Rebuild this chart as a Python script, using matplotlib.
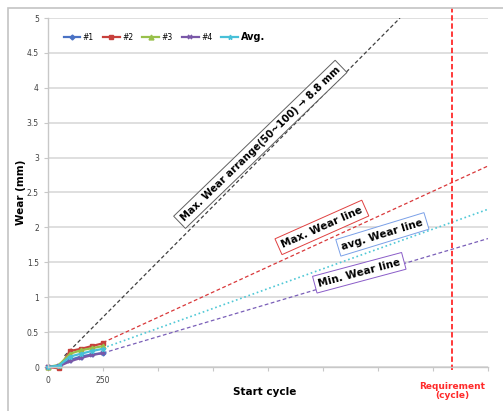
import matplotlib.pyplot as plt
from matplotlib.patches import Rectangle

# data
cycles = [0, 50, 100, 150, 200, 250]
wear_1 = [0.0, 0.02, 0.10, 0.15, 0.18, 0.20]
wear_2 = [0.0, -0.02, 0.23, 0.26, 0.30, 0.34]
wear_3 = [0.0, 0.03, 0.19, 0.24, 0.27, 0.30]
wear_4 = [0.0, 0.01, 0.08, 0.13, 0.17, 0.20]
wear_avg = [0.0, 0.02, 0.15, 0.19, 0.23, 0.26]

# trend lines (start / end)
arrange_x = [75, 1600]
arrange_y = [0.16, 5.0]
max_x = [250, 2000]
max_y = [0.35, 2.88]
avg_x = [250, 2000]
avg_y = [0.27, 2.26]
min_x = [250, 2000]
min_y = [0.20, 1.84]
requirement = 1836

xticks = [0, 250, 500, 750, 1000, 1250, 1500, 1750, 2000]
xtick_labels = ['0', '250', '', '', '', '', '', '', '']
yticks = [0, 0.5, 1, 1.5, 2, 2.5, 3, 3.5, 4, 4.5, 5]
ytick_labels = ['0', '0.5', '1', '1.5', '2', '2.5', '3', '3.5', '4', '4.5', '5']

W, H = 503, 411
fig = plt.figure(figsize=(W / 100, H / 100), dpi=100)
ax = fig.add_axes([48 / W, (H - 367) / H, 440 / W, 349 / H])

# outer frame
fig.patches.append(Rectangle((8 / W, -0.1), 1.2, (H - 8) / H + 0.1, transform=fig.transFigure,
                             fill=False, edgecolor='#c4c4c4', linewidth=1.2))

ax.set_xlim(0, 2000)
ax.set_ylim(0, 5)
ax.set_yticks(yticks)
ax.set_yticklabels(ytick_labels)
ax.set_xticks(xticks)
ax.set_xticklabels(xtick_labels)
ax.tick_params(labelsize=5.5, colors='#404040', length=3, width=0.8)
ax.tick_params(axis='x', color='#c8c8c8')
ax.tick_params(axis='y', color='#c8c8c8')
ax.yaxis.grid(True, color='#dcdcdc', linewidth=1.3)
ax.set_axisbelow(True)
for s in ['top', 'right']:
    ax.spines[s].set_visible(False)
for s in ['left', 'bottom']:
    ax.spines[s].set_color('#c8c8c8')
    ax.spines[s].set_linewidth(1.0)

# trend lines
ax.plot(arrange_x, arrange_y, '--', color='#404040', lw=0.9, dashes=(3, 2))
ax.plot(max_x, max_y, '--', color='#d9383a', lw=0.9, dashes=(3, 2))
ax.plot(avg_x, avg_y, ':', color='#4fc8d6', lw=1.2)
ax.plot(min_x, min_y, '--', color='#7a5fb8', lw=0.9, dashes=(3, 2))

# measured series
ms = 3.5
ax.plot(cycles, wear_1, '-D', color='#4a72c4', lw=1.6, ms=ms - 1, label='#1', clip_on=False)
ax.plot(cycles, wear_2, '-s', color='#c8403c', lw=1.6, ms=ms, label='#2', clip_on=False)
ax.plot(cycles, wear_3, '-^', color='#98c04a', lw=1.6, ms=ms, label='#3', clip_on=False)
ax.plot(cycles, wear_4, '-x', color='#7a58a8', lw=1.6, ms=ms, mew=1.2, label='#4', clip_on=False)
ax.plot(cycles, wear_avg, '-*', color='#48c0d8', lw=1.6, ms=ms, label='Avg.', clip_on=False)

leg = ax.legend(loc='upper left', bbox_to_anchor=(0.02, 0.98), ncol=5, frameon=False,
                fontsize=5.5, handlelength=2.2, columnspacing=1.2, handletextpad=0.3)
for t in leg.get_texts():
    if t.get_text() == 'Avg.':
        t.set_fontsize(7)
        t.set_fontweight('bold')

# requirement line
ax.plot([requirement, requirement], [-0.05, 5.14], '--', color='#ff2a2a', lw=1.3,
        dashes=(3, 1.5), clip_on=False)

# annotation boxes
def box_text(x, y, s, angle, ec, fs):
    ax.text(x, y, s, rotation=angle, rotation_mode='anchor', ha='center', va='center',
            fontsize=fs, fontweight='bold', color='black',
            bbox=dict(boxstyle='square,pad=0.35', fc='white', ec=ec, lw=0.7))

box_text(965, 3.19, 'Max. Wear arrange(50~100) \u2192 8.8 mm', 44, '#606060', 7.2)
box_text(1245, 2.0, 'Max. Wear line', 24, '#e04040', 7.5)
box_text(1520, 1.9, 'avg. Wear line', 17, '#7aa0e8', 7.5)
box_text(1415, 1.35, 'Min. Wear line', 15, '#8a5cc8', 7.5)

fig.text(265 / W, 1 - 392 / H, 'Start cycle', ha='center', va='center',
         fontsize=7.5, fontweight='bold')
fig.text(21 / W, 1 - 192 / H, 'Wear (mm)', ha='center', va='center', rotation=90,
         fontsize=7.5, fontweight='bold')
fig.text(452 / W, 1 - 391 / H, 'Requirement\n(cycle)', ha='center', va='center',
         fontsize=6.5, fontweight='bold', color='#ff2a2a', linespacing=1.1)

fig.savefig('out.png', dpi=100)
